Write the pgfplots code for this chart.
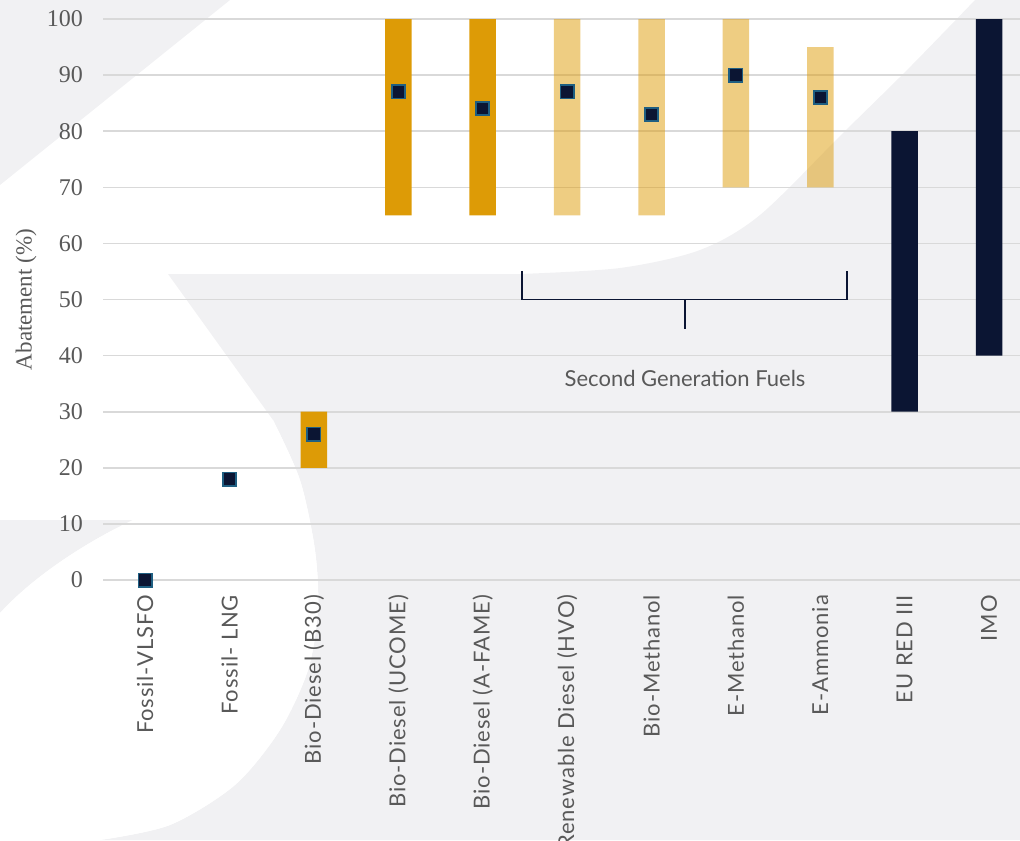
\documentclass[border=0pt]{standalone}
\usepackage{pgfplots}
\usepackage{pgfplotstable}
\pgfplotsset{compat=1.18}
\usepackage{fontspec}
\setmainfont{Liberation Serif}
\newfontfamily\xfont[LetterSpace=4]{Lato}
\newfontfamily\lfont{Lato}
\definecolor{gold}{HTML}{DD9B06}
\definecolor{navy}{HTML}{0B1533}
\definecolor{medge}{HTML}{1F5F82}
\definecolor{gridc}{HTML}{D9D9D9}
\definecolor{wm}{HTML}{F1F1F3}
\definecolor{txt}{HTML}{595959}

% floating bars: base (invisible) + span per colour group
\pgfplotstableread{
x base dark light navy
0 0  0  0  0
1 0  0  0  0
2 20 10 0  0
3 65 35 0  0
4 65 35 0  0
5 65 0  35 0
6 65 0  35 0
7 70 0  30 0
8 70 0  25 0
9 30 0  0  50
10 40 0 0  60
}\bars

\pgfplotstableread{
x y
0 0
1 18
2 26
3 87
4 84
5 87
6 83
7 90
8 86
}\marks

\pgfplotsset{base/.style={
  scale only axis, width=458.5pt, height=280.5pt,
  xmin=-0.5, xmax=10.367, ymin=0, ymax=100,
  at={(51.5pt,-290pt)}, anchor=south west, clip=false,
}}

\begin{document}
\begin{tikzpicture}
% watermark background
\begin{scope}[x=0.5pt,y=-0.5pt]
\fill[wm] (0,0) -- (230,0) -- (0,185) -- cycle;
\fill[wm] (0,520) -- (133,520) .. controls (80,545) and (30,580) .. (0,613) -- cycle;
\fill[wm] (168,274) -- plot[smooth] coordinates {(520,274) (620,268) (700,250) (760,215) (843,133) (910,67) (975,0)}
  -- (1020,0) -- (1020,840) -- plot[smooth] coordinates {(100,840) (170,825) (235,785) (280,730) (308,670) (318,610) (315,550) (300,480) (273,420)} -- cycle;
\fill[white] (0,613) -- (0,840) -- plot[smooth] coordinates {(100,840) (170,825) (235,785) (280,730) (308,670) (318,610) (315,550) (300,480) (273,420)}
  -- (133,520) .. controls (80,545) and (30,580) .. (0,613) -- cycle;
\end{scope}

\begin{axis}[base,
  ybar stacked, bar width=13.25pt,
  ymajorgrids, grid style={gridc, line width=0.8pt},
  axis line style={draw=none}, major tick style={draw=none},
  ytick={0,10,...,100},
  xtick={0,...,10},
  xticklabels={Fossil-VLSFO,Fossil- LNG,Bio-Diesel (B30),Bio-Diesel (UCOME),Bio-Diesel (A-FAME),Renewable Diesel (HVO),Bio-Methanol,E-Methanol,E-Ammonia,EU RED III,IMO},
  xticklabel style={rotate=90, anchor=east, font=\xfont\fontsize{11}{13}\selectfont, text=txt},
  xticklabel shift=4pt,
  yticklabel style={font=\fontsize{12}{14}\selectfont, text=txt},
  yticklabel shift=6.5pt,
  /pgf/number format/assume math mode=true,
  ylabel={Abatement (\%)},
  every axis y label/.style={at={([xshift=-38.5pt]axis description cs:0,0.5)}, rotate=90, anchor=center, font=\fontsize{11.5}{14}\selectfont, text=txt},
]
\addplot[draw=none, fill=none] table[x=x, y=base] {\bars};
\addplot[draw=none, fill=gold] table[x=x, y=dark] {\bars};
\addplot[draw=none, fill=gold, fill opacity=0.5] table[x=x, y=light] {\bars};
\addplot[draw=none, fill=navy] table[x=x, y=navy] {\bars};
\end{axis}

\begin{axis}[base, hide axis]
\addplot[only marks, mark=square*, mark size=3.3pt, mark options={fill=navy, draw=medge, line width=0.9pt}] table[x=x, y=y] {\marks};
\draw[navy, line width=0.75pt] (axis cs:4.467,55.1) -- (axis cs:4.467,50) -- (axis cs:8.318,50) -- (axis cs:8.318,55.1);
\draw[navy, line width=0.75pt] (axis cs:6.398,50) -- (axis cs:6.398,44.7);
\node[font=\lfont\fontsize{11}{13}\selectfont, text=txt] at (axis cs:6.398,36) {Second Generation Fuels};
\end{axis}

\pgfresetboundingbox
\path (0,0) rectangle (510pt,-420pt);
\end{tikzpicture}
\end{document}
